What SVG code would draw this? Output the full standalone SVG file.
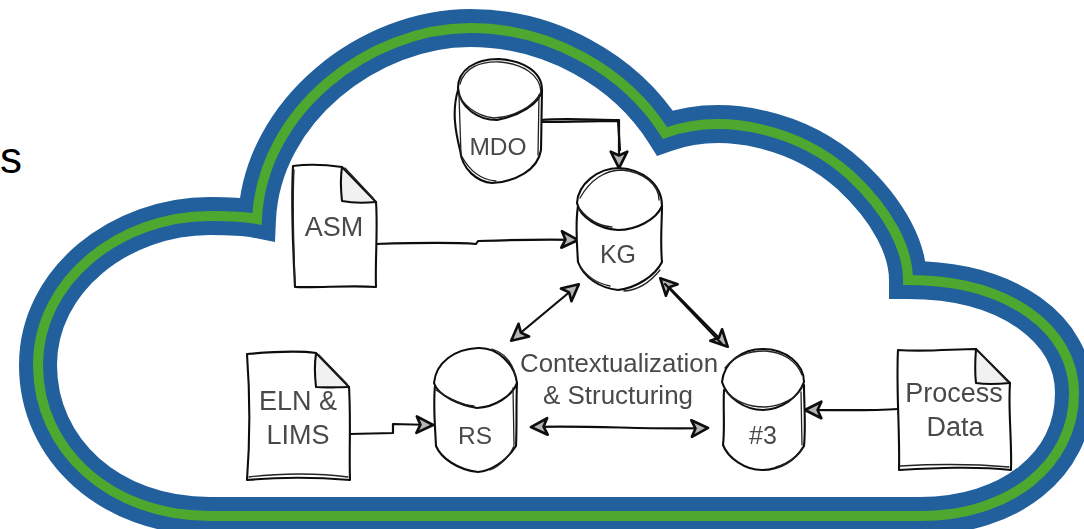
<svg xmlns="http://www.w3.org/2000/svg" width="1084" height="529" viewBox="0 0 1084 529">
<style>
.cl{fill:none;stroke-linejoin:miter;stroke-miterlimit:10}
.sk{fill:none;stroke:#111;stroke-width:2.1;stroke-linejoin:round;stroke-linecap:round}
.sk2{fill:none;stroke:#222;stroke-width:1.3;stroke-linejoin:round;stroke-linecap:round}
.wh{fill:#fff;stroke:none}
.fold{fill:#f1f1f1;stroke:none}
text{font-family:"Liberation Sans",Arial,sans-serif;fill:#4a4a4a;text-anchor:middle}
.a{fill:none;stroke:#111;stroke-width:2.2;stroke-linecap:round;stroke-linejoin:round}
.a1{marker-end:url(#ah)}
.a2{marker-start:url(#ah);marker-end:url(#ah)}
.soft{filter:url(#soft)}
</style>
<defs>
<filter id="soft" x="-5%" y="-5%" width="110%" height="110%"><feGaussianBlur stdDeviation="0.4"/></filter>
<marker id="ah" markerUnits="userSpaceOnUse" markerWidth="22" markerHeight="22" refX="16" refY="9" viewBox="0 0 20 18" orient="auto-start-reverse">
<path d="M2,1.5 L17,9 L2,16.5 L5.5,9 Z" fill="#b5b5b5" stroke="#111" stroke-width="2.4" stroke-linejoin="round"/>
</marker>
</defs>
<rect width="1084" height="529" fill="#fff"/>
<text x="11" y="173" style="font-size:44px;fill:#000">s</text>
<g id="cloud">
<path id="cloud-outer" class="cl" stroke="#21609c" stroke-width="38" d="M257,219 C262,110 370,28 470,28 C550,28 625,70 665,133 C725,112 800,130 850,175 C890,212 908,250 908,280 C1010,280 1074,330 1074,393 C1074,465 1010,516 920,516 L210,516 C110,516 38,450 38,365 C38,280 120,216 210,216 C228,216 242,216 257,219 Z"/>
<path id="cloud-inner" class="cl" stroke="#4ea72e" stroke-width="10" d="M257,219 C262,110 370,28 470,28 C550,28 625,70 665,133 C725,112 800,130 850,175 C890,212 908,250 908,280 C1010,280 1074,330 1074,393 C1074,465 1010,516 920,516 L210,516 C110,516 38,450 38,365 C38,280 120,216 210,216 C228,216 242,216 257,219 Z"/>
</g>
<g id="connectors" class="soft">
<path class="a a1" d="M541,120 C565,118 595,120 619,120 L619,167"/>
<path class="a" d="M541,122 C570,122 600,121 618,121 L620,150"/>
<path class="a a1" d="M376,244 C410,243 450,242 476,244 L478,241 C510,240 550,239 577,240"/>
<path class="a a1" d="M350,434 L393,433 L393,424 L432,425"/>
<path class="a a1" d="M898,409 C870,411 835,410 806,410"/>
<path class="a a2" d="M512,340 L578,285"/>
<path class="a a2" d="M661,279 L727,346"/>
<path class="a" d="M665,284 L722,344"/>
<path class="a a2" d="M532,427 C590,425 650,430 707,428"/>
</g>
<g id="node-mdo" class="soft">
<path class="wh" d="M458,88 C458,70 475,59 498,59 C520,60 542,70 542,90 L542,150 C538,170 515,182 492,183 C478,182 462,170 460,150 C455,130 452,110 458,88 Z"/>
<path class="sk" d="M458,88 C458,70 475,59 498,59 C520,60 542,70 542,90 C540,104 518,116 497,120 C478,120 460,108 458,88 Z"/>
<path class="sk2" d="M460,84 C464,68 480,61 500,62 C522,64 540,74 541,92 C534,106 515,117 494,118 C476,116 461,104 458,92"/>
<path class="sk" d="M458,90 C452,110 455,130 460,150 C462,170 478,182 492,183 C515,182 538,170 541,150 L542,90"/>
<path class="sk2" d="M459,95 L461,155 C470,172 482,180 496,181 M539,95 L538,155"/>
<text x="498" y="155" style="font-size:24.5px">MDO</text>
</g>
<g id="node-kg" class="soft">
<path class="wh" d="M577,203 C578,184 598,168 619,168 C642,169 662,184 662,206 L662,262 C652,278 632,290 618,290 C600,288 582,276 578,262 C576,240 576,222 577,203 Z"/>
<path class="sk" d="M577,203 C578,184 598,168 619,168 C642,169 662,184 662,206 C656,220 636,230 618,230 C600,229 580,218 577,203 Z"/>
<path class="sk2" d="M580,198 C590,180 605,170 622,170 C645,172 659,186 659,200 M579,208 C588,220 600,226 612,227"/>
<path class="sk" d="M578,206 C575,225 577,245 578,262 C584,278 600,288 618,290 C636,288 655,276 662,262 C660,240 662,222 662,206"/>
<path class="sk2" d="M580,266 C588,278 600,284 610,286 M624,291 C640,290 652,280 660,270"/>
<text x="618" y="263" style="font-size:25px">KG</text>
</g>
<g id="node-asm" class="soft">
<path class="wh" d="M293,166 L342,166 L376,202 L376,287 L294,287 Z"/>
<path class="fold" d="M342,167 L376,202 L342,202 Z"/>
<path class="sk" d="M293,166 C308,164 328,165 342,167 L376,202 C378,230 375,260 376,287 C350,285 320,288 295,287 C293,250 291,205 293,166 Z"/>
<path class="sk" d="M342,167 C340,180 341,192 342,201 C352,203 365,203 376,202"/>
<path class="sk2" d="M345,168 L373,198 M294,170 C292,210 294,250 295,283"/>
<text x="334" y="236" style="font-size:27px">ASM</text>
</g>
<g id="node-eln" class="soft">
<path class="wh" d="M247,354 L316,354 L349,387 L349,480 L247,480 Z"/>
<path class="fold" d="M316,354 L349,386 L316,387 Z"/>
<path class="sk" d="M247,354 C270,352 295,350 316,353 L349,387 C351,420 349,450 350,480 C315,477 280,477 247,480 C250,440 250,395 247,354 Z"/>
<path class="sk" d="M316,354 C314,366 315,378 316,387 C326,388 338,387 349,387"/>
<path class="sk2" d="M319,355 L347,384 M249,477 C280,473 320,473 348,477"/>
<text x="298" y="410" style="font-size:27px">ELN &amp;</text>
<text x="298" y="444" style="font-size:27px">LIMS</text>
</g>
<g id="node-rs" class="soft">
<path class="wh" d="M434,383 C436,362 455,349 478,348 C498,347 515,365 517,383 L516,446 C505,462 490,471 478,472 C458,470 441,458 436,446 C434,425 433,404 434,383 Z"/>
<path class="sk" d="M434,383 C436,362 455,349 478,348 C498,347 515,365 517,383 C512,396 495,407 477,408 C460,405 438,396 434,383 Z"/>
<path class="sk2" d="M436,390 C448,398 462,405 474,406 M492,349 C505,353 513,364 516,378"/>
<path class="sk" d="M435,386 C433,405 435,425 436,446 C441,458 458,470 478,472 C490,471 506,462 516,446 C517,425 516,405 517,383"/>
<path class="sk2" d="M513,388 L514,445 M490,470 C500,466 510,456 514,446"/>
<text x="475" y="444" style="font-size:24.5px">RS</text>
</g>
<g id="node-3" class="soft">
<path class="wh" d="M722,382 C724,362 742,349 763,349 C786,349 804,364 804,382 L804,446 C796,460 780,470 762,470 C745,470 728,458 723,445 C724,425 722,404 722,382 Z"/>
<path class="sk" d="M722,382 C724,362 742,349 763,349 C786,349 804,364 804,382 C798,398 782,409 763,410 C745,410 727,398 722,382 Z"/>
<path class="sk2" d="M725,368 C735,355 750,351 765,351 C782,352 796,360 802,375 M725,390 C735,402 750,407 765,407 C782,406 796,398 802,388"/>
<path class="sk" d="M724,390 C723,410 725,428 723,445 C728,458 745,470 762,470 C780,470 796,460 804,446 C806,425 804,405 804,385"/>
<path class="sk2" d="M801,392 L802,445 M776,467 C788,464 798,456 802,448"/>
<text x="763" y="444" style="font-size:25px">#3</text>
</g>
<g id="node-process" class="soft">
<path class="wh" d="M898,350 L976,349 L1010,383 L1011,470 L899,470 Z"/>
<path class="fold" d="M977,351 L1009,383 L977,383 Z"/>
<path class="sk" d="M898,350 C925,352 955,349 976,349 L1010,383 C1008,410 1012,440 1011,470 C975,466 935,468 899,470 C900,430 896,390 898,350 Z"/>
<path class="sk" d="M976,349 C975,362 975,374 976,383 C988,385 1000,384 1010,383"/>
<path class="sk2" d="M979,352 L1007,381 M900,466 C935,464 975,464 1009,467"/>
<text x="954" y="402" style="font-size:27px">Process</text>
<text x="955" y="436" style="font-size:27px">Data</text>
</g>
<g id="label-center" class="soft">
<text x="619" y="372" style="font-size:25px" textLength="198" lengthAdjust="spacingAndGlyphs">Contextualization</text>
<text x="618" y="404" style="font-size:25px" textLength="150" lengthAdjust="spacingAndGlyphs">&amp; Structuring</text>
</g>
</svg>
